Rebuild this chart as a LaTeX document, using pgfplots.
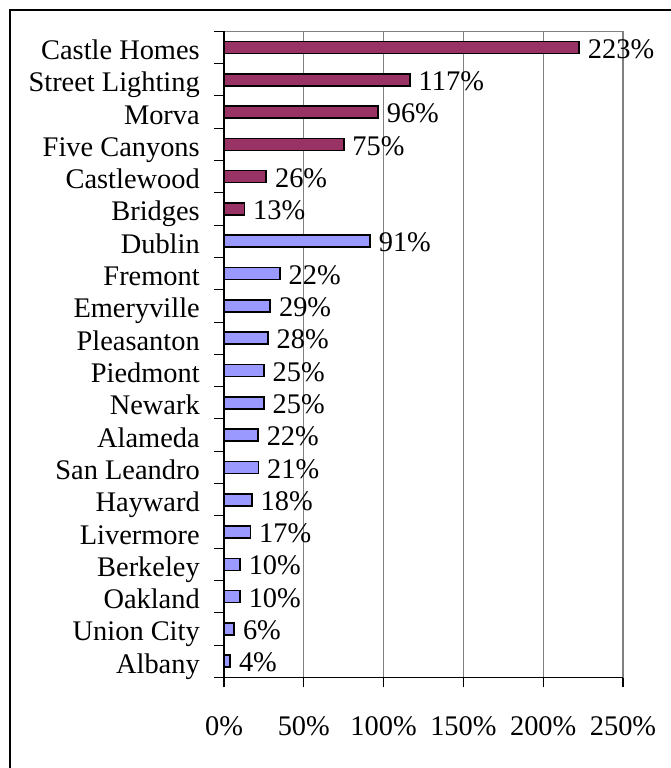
\documentclass[border=0pt]{standalone}
\usepackage{pgfplots}
\pgfplotsset{compat=1.18}
\usepackage{fontspec}
\setmainfont{Liberation Serif}

\definecolor{maroonbar}{HTML}{993366}
\definecolor{lavbar}{HTML}{9999FF}
\newcommand{\lbl}{\fontsize{21.3}{25}\selectfont}

\begin{document}
\begin{tikzpicture}
  \useasboundingbox (0,0) rectangle (503.25pt,-576pt);
  \clip (0,0) rectangle (503.25pt,-576pt);
  \fill[white] (0,0) rectangle (503.25pt,-576pt);
  % outer chart frame, cut off at right and bottom
  \draw[line width=1pt] (7.5pt,-7.5pt) rectangle (540pt,-620pt);
  \begin{axis}[
      at={(168pt,-508pt)}, anchor=south west,
      scale only axis,
      width=299.25pt, height=484.5pt,
      xbar, bar width=9pt, bar shift=0pt,
      xmin=0, xmax=250,
      ymin=-0.5, ymax=19.5,
      y dir=reverse,
      xtick={0,50,...,250},
      xticklabels={0\%,50\%,100\%,150\%,200\%,250\%},
      ytick={0,...,19},
      yticklabels={Castle Homes,Street Lighting,Morva,Five Canyons,Castlewood,Bridges,Dublin,Fremont,Emeryville,Pleasanton,Piedmont,Newark,Alameda,San Leandro,Hayward,Livermore,Berkeley,Oakland,Union City,Albany},
      minor ytick={-0.5,0.5,...,19.5},
      major y tick style={draw=none},
      tick align=outside,
      xtick pos=bottom, ytick pos=left,
      major tick length=7.5pt, minor tick length=7.5pt,
      tick style={black, line width=0.8pt},
      xmajorgrids, major x grid style={gray, line width=0.6pt},
      axis line style={gray, line width=0.8pt},
      tick label style={font=\lbl},
      yticklabel style={anchor=base east, inner sep=0pt, xshift=-10.5pt, yshift=-9pt},
      xticklabel style={anchor=base, inner sep=0pt, yshift=-36.4pt},
      nodes near coords,
      point meta=explicit symbolic,
      every node near coord/.append style={font=\lbl, anchor=base west, inner sep=0pt, xshift=6pt, yshift=-8pt, black},
      clip=false,
    ]
    \addplot[fill=maroonbar, draw=black, line width=1.2pt] coordinates {
      (222.5,0) [223\%]
      (116.5,1) [117\%]
      (96.5,2) [96\%]
      (75,3) [75\%]
      (26.5,4) [26\%]
      (12.8,5) [13\%]
    };
    \addplot[fill=lavbar, draw=black, line width=1.2pt] coordinates {
      (91.5,6) [91\%]
      (35,7) [22\%]
      (29,8) [29\%]
      (27.5,9) [28\%]
      (25,10) [25\%]
      (25,11) [25\%]
      (21.3,12) [22\%]
      (21.5,13) [21\%]
      (17.5,14) [18\%]
      (16.5,15) [17\%]
      (10,16) [10\%]
      (10,17) [10\%]
      (6.4,18) [6\%]
      (3.9,19) [4\%]
    };
    \draw[black, line width=0.8pt] (axis cs:0,-0.5) -- (axis cs:0,19.5) -- (axis cs:250,19.5);
  \end{axis}
\end{tikzpicture}
\end{document}
